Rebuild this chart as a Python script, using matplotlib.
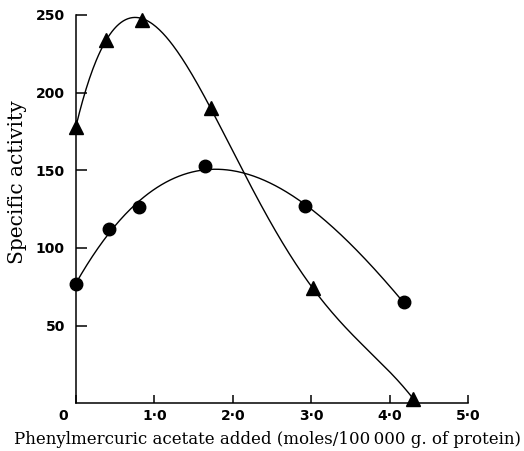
import numpy as np
import matplotlib
matplotlib.use("Agg")
from matplotlib import pyplot as plt
from matplotlib import transforms

# triangles
tri_x = [0.0, 0.38, 0.84, 1.72, 3.02, 4.30]
tri_y = [178, 234, 247, 190, 74, 3]

# circles
cir_x = [0.0, 0.42, 0.81, 1.65, 2.92, 4.18]
cir_y = [77, 112, 126, 153, 127, 65]

x_ticks = [0, 1, 2, 3, 4, 5]
x_labels = ["0", "1·0", "2·0", "3·0", "4·0", "5·0"]
y_ticks = [50, 100, 150, 200, 250]

fig = plt.figure(figsize=(5.24, 4.51), dpi=100)
ax = fig.add_axes([0.145, 0.106, 0.748, 0.861])

# smooth curves drawn through the points
tri_fit = np.polyfit(tri_x, tri_y, 4)
xs = np.linspace(tri_x[0], tri_x[-1], 300)
ax.plot(xs, np.polyval(tri_fit, xs), color="black", lw=1.0)

cir_fit = np.polyfit(cir_x, cir_y, 3)
xs = np.linspace(cir_x[0], cir_x[-1], 300)
ax.plot(xs, np.polyval(cir_fit, xs), color="black", lw=1.0)

ax.plot(tri_x, tri_y, "^", color="black", ms=10, clip_on=False)
ax.plot(cir_x, cir_y, "o", color="black", ms=9, clip_on=False)

ax.set_xlim(0, 5)
ax.set_ylim(0, 250)
ax.spines["top"].set_visible(False)
ax.spines["right"].set_visible(False)
for s in ["left", "bottom"]:
    ax.spines[s].set_linewidth(1.1)

ax.set_xticks(x_ticks)
ax.set_xticklabels(x_labels, fontfamily="DejaVu Sans", fontweight="bold", fontsize=10)
ax.set_yticks(y_ticks)
ax.set_yticklabels([str(v) for v in y_ticks], fontfamily="DejaVu Sans",
                   fontweight="bold", fontsize=10)
ax.tick_params(axis="x", direction="in", length=6, width=1.1, pad=4)
ax.tick_params(axis="y", direction="in", length=8, width=1.1, pad=8)

# origin label sits a little to the left
lab0 = ax.get_xticklabels()[0]
lab0.set_transform(lab0.get_transform() +
                   transforms.ScaledTranslation(-13 / 100, 0, fig.dpi_scale_trans))

ax.set_xlabel("Phenylmercuric acetate added (moles/100\u2009000 g. of protein)",
              fontfamily="DejaVu Serif", fontsize=12, labelpad=6)
ax.xaxis.label.set_x(0.488)
ax.set_ylabel("Specific activity", fontfamily="DejaVu Serif", fontsize=14.5)
ax.yaxis.set_label_coords(-0.125, 0.57)

fig.savefig("out.png", dpi=100)
